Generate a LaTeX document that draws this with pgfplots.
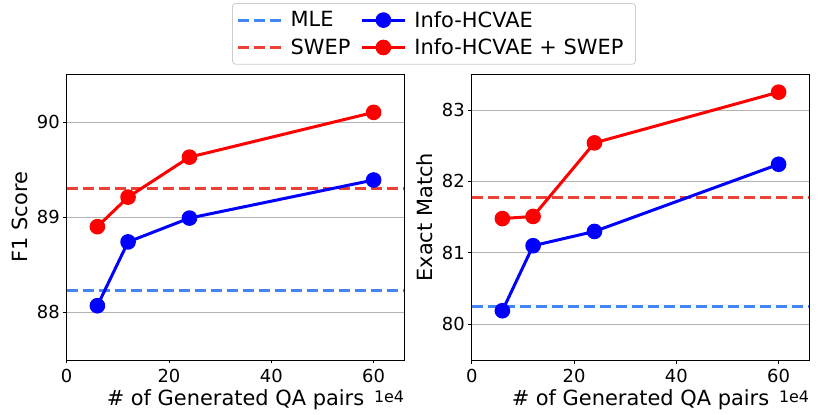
\documentclass[border=0pt]{standalone}
\usepackage{pgfplots}
\pgfplotsset{compat=1.18}
\usepackage{fontspec}
\setmainfont{DejaVu Sans}
\definecolor{mleblue}{HTML}{4285F4}
\definecolor{swepred}{HTML}{EA4335}
\definecolor{lineblue}{HTML}{0000FF}
\definecolor{linered}{HTML}{FF0000}
\begin{document}
\begin{tikzpicture}
\path[use as bounding box] (0bp,0bp) rectangle (830bp,415bp);
\pgfplotsset{
  myaxis/.style={
    scale only axis, width=337.6bp, height=285.7bp,
    xmin=0, xmax=66, xtick={0,20,40,60},
    ymajorgrids, grid style={color=black!30, line width=0.8bp},
    tick align=outside, major tick length=3.5bp, minor tick num=0,
    tick style={black, line width=0.8bp},
    tick pos=left,
    axis line style={black, line width=0.8bp},
    scaled ticks=false,
    /pgf/number format/assume math mode=true,
    tick label style={font=\fontsize{18}{21}\selectfont},
    xticklabel style={yshift=-2bp},
    label style={font=\fontsize{21}{25}\selectfont},
    xlabel={\# of Generated QA pairs},
    xlabel style={at={(axis description cs:0.5,-0.14)}, anchor=center},
    ylabel style={at={(axis description cs:-0.138,0.5)}, anchor=center},
    clip=false,
  },
  mle/.style={mleblue, line width=3bp, dash pattern=on 11bp off 5bp},
  swep/.style={swepred, line width=3bp, dash pattern=on 11bp off 5bp},
  blueline/.style={lineblue, line width=3bp, mark=*, mark size=6.3bp, mark options={solid, fill=lineblue, draw=lineblue}},
  redline/.style={linered, line width=3bp, mark=*, mark size=6.3bp, mark options={solid, fill=linered, draw=linered}},
}
\begin{axis}[myaxis, at={(66.7bp,55bp)}, anchor=south west,
  ymin=87.5, ymax=90.5, ytick={88,89,90},
  ylabel={F1 Score},
  legend columns=2,
  legend cell align=left,
  legend style={at={(axis description cs:1.088,1.2495)}, anchor=north,
    draw=black!20, rounded corners=3bp, fill=white, line width=0.8bp,
    font=\fontsize{21}{25}\selectfont, row sep=6bp,
    inner xsep=4bp, inner ysep=6bp,
    nodes={inner xsep=8bp},
    /tikz/every even column/.append style={column sep=2bp}},
  legend image code/.code={\draw[mark repeat=2, mark phase=2] plot coordinates {(0bp,0bp) (21.5bp,0bp) (43bp,0bp)};},
]
\addlegendimage{mle}\addlegendentry{MLE}
\addlegendimage{blueline}\addlegendentry{Info-HCVAE}
\addlegendimage{swep}\addlegendentry{SWEP}
\addlegendimage{redline}\addlegendentry{Info-HCVAE + SWEP}
\addplot[mle, forget plot] coordinates {(0,88.23) (66,88.23)};
\addplot[swep, forget plot] coordinates {(0,89.30) (66,89.30)};
\addplot[blueline, forget plot] coordinates {(6,88.07) (12,88.74) (24,88.99) (60,89.39)};
\addplot[redline, forget plot] coordinates {(6,88.90) (12,89.21) (24,89.63) (60,90.10)};
\node[anchor=east, inner sep=0pt, font=\fontsize{16}{19}\selectfont] at (axis description cs:1,-0.13) {1e4};
\end{axis}
\begin{axis}[myaxis, at={(471.7bp,55bp)}, anchor=south west,
  ymin=79.5, ymax=83.5, ytick={80,81,82,83},
  ylabel={Exact Match},
]
\addplot[mle] coordinates {(0,80.25) (66,80.25)};
\addplot[swep] coordinates {(0,81.78) (66,81.78)};
\addplot[blueline] coordinates {(6,80.19) (12,81.10) (24,81.30) (60,82.24)};
\addplot[redline] coordinates {(6,81.48) (12,81.51) (24,82.54) (60,83.25)};
\node[anchor=east, inner sep=0pt, font=\fontsize{16}{19}\selectfont] at (axis description cs:1,-0.13) {1e4};
\end{axis}
\end{tikzpicture}
\end{document}
